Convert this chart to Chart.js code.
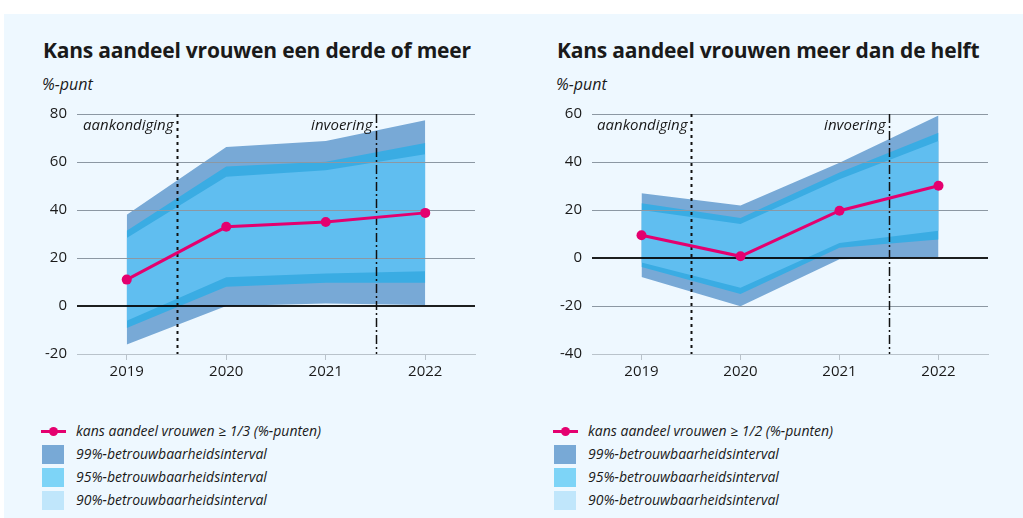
<!DOCTYPE html>
<html>
<head>
<meta charset="utf-8">
<script src="https://cdn.jsdelivr.net/npm/chart.js@4"></script>
<style>
  html, body { margin: 0; padding: 0; background: #fff; }
  body { width: 1023px; height: 518px; position: relative; overflow: hidden; font-family: "Open Sans", sans-serif; color: #1a1a1a; }
  #panel { position: absolute; left: 4px; top: 14px; right: 0; bottom: 0; background: #eef8ff; }
  .title { position: absolute; top: 36px; font-weight: 700; font-size: 21px; white-space: nowrap; letter-spacing: -0.2px; }
  .unit { position: absolute; top: 73px; font-style: italic; font-size: 16px; }
  canvas { position: absolute; top: 95px; }
  .legend { position: absolute; top: 420px; font-style: italic; font-size: 14px; }
  .legend .row { position: relative; height: 23px; line-height: 22px; padding-left: 35px; white-space: nowrap; }
  .legend .sw { position: absolute; left: 1px; top: 2px; width: 22px; height: 19px; }
  .legend .ln { position: absolute; left: 0; top: 10px; width: 25px; height: 3px; }
  .legend .dot { position: absolute; left: 8px; top: 7px; width: 9px; height: 9px; border-radius: 50%; }
</style>
</head>
<body>
<div id="panel"></div>
<div class="title" style="left:43px">Kans aandeel vrouwen een derde of meer</div>
<div class="title" style="left:557px">Kans aandeel vrouwen meer dan de helft</div>
<div class="unit" style="left:42px">%-punt</div>
<div class="unit" style="left:556px">%-punt</div>
<canvas id="chart13" width="510" height="300" style="left:0px"></canvas>
<canvas id="chart12" width="508" height="300" style="left:515px"></canvas>
<div class="legend" id="legend13" style="left:41px"></div>
<div class="legend" id="legend12" style="left:553px"></div>
<script>
// jaren en gebeurtenissen
var years = ['2019', '2020', '2021', '2022'];
var eventLabels = ['aankondiging', 'invoering'];
var eventAfter = ['2019', '2021'];

// kans aandeel vrouwen >= 1/3
var kans13 = [11, 33, 35, 38.8];
var hi99_13 = [38, 66.3, 68.8, 77.4];
var lo99_13 = [-16, 0, 1, 0.4];
var hi95_13 = [31.4, 58.1, 60.1, 67.9];
var lo95_13 = [-9.2, 8, 9.7, 9.7];
var hi90_13 = [28.3, 53.9, 56.6, 63.2];
var lo90_13 = [-6.1, 12, 13.5, 14.5];
var yTicks13 = { min: -20, max: 80, step: 20 };

// kans aandeel vrouwen >= 1/2
var kans12 = [9.5, 0.7, 19.7, 30.1];
var hi99_12 = [27, 21.9, 39.7, 59.4];
var lo99_12 = [-7.9, -20.1, -0.5, 0.4];
var hi95_12 = [22.8, 16.7, 35.6, 52.2];
var lo95_12 = [-3.7, -15, 4.3, 7.7];
var hi90_12 = [20, 14.2, 32.8, 48.7];
var lo90_12 = [-1.9, -12.4, 6.3, 11.4];
var yTicks12 = { min: -40, max: 60, step: 20 };

var intervalLabels = ['99%-betrouwbaarheidsinterval', '95%-betrouwbaarheidsinterval', '90%-betrouwbaarheidsinterval'];

var pink = '#e4006f';
var bandColors = ['#78a9d6', '#3aace3', '#60bef0'];
var legendColors = ['#78a9d6', '#7dd4f7', '#c0e6fb'];
var gridColor = '#8c98a3';
var axisColor = '#b9c3cb';
var font = { family: '"Open Sans", sans-serif', size: 15 };

/**
 * grid lines, zero line and event markers, drawn over the bands but under the line
 */
var overlayPlugin = {
    id: 'overlay',
    beforeDatasetDraw: function(chart, args) {
        if (args.index !== 0) return;
        var ctx = chart.ctx, a = chart.chartArea, x = chart.scales.x, y = chart.scales.y;
        ctx.save();
        y.ticks.forEach(function(t) {
            if (t.value === y.min) return;
            var py = Math.round(y.getPixelForValue(t.value));
            ctx.beginPath();
            if (t.value === 0) {
                ctx.strokeStyle = 'rgba(0,0,0,0.88)';
                ctx.lineWidth = 2;
                ctx.moveTo(a.left, py);
            } else {
                ctx.strokeStyle = gridColor;
                ctx.lineWidth = 1;
                py += 0.5;
                ctx.moveTo(a.left, py);
            }
            ctx.lineTo(a.right, py);
            ctx.stroke();
        });
        var dashes = [[3, 4], [9, 3, 2, 3]];
        eventAfter.forEach(function(yr, i) {
            var px = Math.round(x.getPixelForValue(years.indexOf(yr) + 0.5)) + 0.5;
            ctx.beginPath();
            ctx.strokeStyle = '#111';
            ctx.lineWidth = i === 0 ? 2 : 1.5;
            ctx.setLineDash(dashes[i]);
            ctx.moveTo(px, a.top);
            ctx.lineTo(px, a.bottom);
            ctx.stroke();
            ctx.setLineDash([]);
            ctx.fillStyle = '#1a1a1a';
            ctx.font = 'italic 15px "Open Sans", sans-serif';
            ctx.textAlign = 'right';
            ctx.textBaseline = 'alphabetic';
            ctx.fillText(eventLabels[i], px - 4, a.top + 16);
        });
        ctx.restore();
    }
};

function band(values, fill, color) {
    return {
        data: values,
        fill: fill,
        backgroundColor: color,
        borderWidth: 0,
        pointRadius: 0,
        tension: 0
    };
}

function buildChart(id, kans, label, b, yt) {
    var ctx = document.getElementById(id);
    return new Chart(ctx, {
        type: 'line',
        data: {
            labels: years,
            datasets: [
                {
                    label: label,
                    data: kans,
                    borderColor: pink,
                    backgroundColor: pink,
                    borderWidth: 3,
                    pointRadius: 5,
                    pointBorderWidth: 0,
                    fill: false,
                    tension: 0
                },
                band(b.hi90, '+1', bandColors[2]),
                band(b.lo90, false, bandColors[2]),
                band(b.hi95, '+1', bandColors[1]),
                band(b.lo95, false, bandColors[1]),
                band(b.hi99, '+1', bandColors[0]),
                band(b.lo99, false, bandColors[0])
            ]
        },
        options: {
            responsive: false,
            animation: false,
            devicePixelRatio: 1,
            layout: { padding: { top: 18, right: 35, left: 0, bottom: 0 } },
            plugins: {
                legend: { display: false },
                tooltip: { enabled: false }
            },
            scales: {
                x: {
                    type: 'category',
                    offset: true,
                    grid: { offset: false, drawOnChartArea: false, drawTicks: true, tickLength: 6, color: axisColor },
                    border: { display: true, color: axisColor },
                    ticks: { font: font, color: '#1a1a1a', padding: 3, maxRotation: 0 },
                    afterFit: function(s) { s.height = 41; }
                },
                y: {
                    min: yt.min,
                    max: yt.max,
                    grid: { display: false, drawTicks: false },
                    border: { display: false },
                    ticks: { stepSize: yt.step, font: font, color: '#1a1a1a', padding: 10 },
                    afterFit: function(s) { s.width = 77; }
                }
            }
        },
        plugins: [overlayPlugin]
    });
}

function buildLegend(id, lineLabel) {
    var el = document.getElementById(id);
    var html = '<div class="row"><span class="ln" style="background:' + pink + '"></span>' +
        '<span class="dot" style="background:' + pink + '"></span>' + lineLabel + '</div>';
    intervalLabels.forEach(function(l, i) {
        html += '<div class="row"><span class="sw" style="background:' + legendColors[i] + '"></span>' + l + '</div>';
    });
    el.innerHTML = html;
}

var label13 = 'kans aandeel vrouwen \u2265 1/3 (%-punten)';
var label12 = 'kans aandeel vrouwen \u2265 1/2 (%-punten)';

buildChart('chart13', kans13, label13,
    { hi99: hi99_13, lo99: lo99_13, hi95: hi95_13, lo95: lo95_13, hi90: hi90_13, lo90: lo90_13 }, yTicks13);
buildChart('chart12', kans12, label12,
    { hi99: hi99_12, lo99: lo99_12, hi95: hi95_12, lo95: lo95_12, hi90: hi90_12, lo90: lo90_12 }, yTicks12);

buildLegend('legend13', label13);
buildLegend('legend12', label12);
</script>
</body>
</html>
